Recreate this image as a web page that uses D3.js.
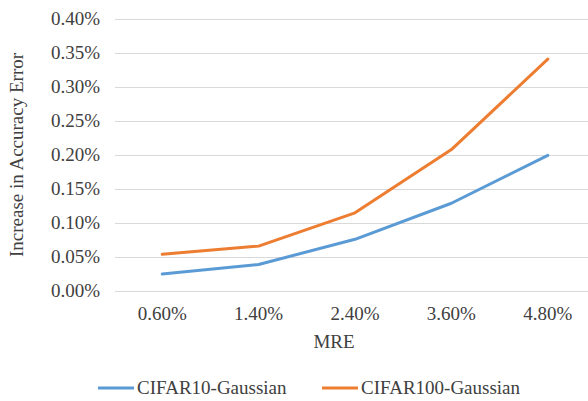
<!DOCTYPE html>
<html>
<head>
<meta charset="utf-8">
<script src="https://cdn.jsdelivr.net/npm/d3@7"></script>
<style>
  html, body { margin: 0; padding: 0; background: #fff; }
  svg text { font-family: "Liberation Serif", "Times New Roman", serif; fill: #404040; }
</style>
</head>
<body>
<div id="chart"></div>
<script>
// MRE vs increase in accuracy error — two Gaussian noise series (values in %)
const categories = ["0.60%", "1.40%", "2.40%", "3.60%", "4.80%"];
const cifar10 = [0.025, 0.039, 0.076, 0.129, 0.1995];
const cifar100 = [0.054, 0.066, 0.115, 0.208, 0.341];
const yTicks = [0, 0.05, 0.10, 0.15, 0.20, 0.25, 0.30, 0.35, 0.40];

const width = 588, height = 401;
const svg = d3.select("#chart").append("svg")
  .attr("width", width)
  .attr("height", height);

const x = d3.scaleBand()
  .domain(categories)
  .range([114, 596]);

const y = d3.scaleLinear()
  .domain([0, 0.40])
  .range([291, 19]);

// gridlines
svg.append("g")
  .selectAll("line")
  .data(yTicks)
  .join("line")
  .attr("x1", 115)
  .attr("x2", width)
  .attr("y1", d => Math.round(y(d)) + 0.5)
  .attr("y2", d => Math.round(y(d)) + 0.5)
  .attr("stroke", "#d9d9d9")
  .attr("stroke-width", 1);

// y tick labels
svg.append("g")
  .selectAll("text")
  .data(yTicks)
  .join("text")
  .attr("x", 100)
  .attr("y", d => y(d) + 6)
  .attr("text-anchor", "end")
  .style("font-size", "19px")
  .text(d => d.toFixed(2) + "%");

// x tick labels
svg.append("g")
  .selectAll("text")
  .data(categories)
  .join("text")
  .attr("x", d => x(d) + x.bandwidth() / 2)
  .attr("y", 320)
  .attr("text-anchor", "middle")
  .style("font-size", "19px")
  .text(d => d);

// axis titles
svg.append("text")
  .attr("x", 334)
  .attr("y", 348)
  .attr("text-anchor", "middle")
  .style("font-size", "19px")
  .text("MRE");

svg.append("text")
  .attr("transform", "translate(23,155) rotate(-90)")
  .attr("text-anchor", "middle")
  .style("font-size", "19px")
  .text("Increase in Accuracy Error");

// lines
const line = d3.line()
  .x((d, i) => x(categories[i]) + x.bandwidth() / 2)
  .y(d => y(d));

const series = [
  { name: "CIFAR10-Gaussian", values: cifar10, color: "#5b9bd5" },
  { name: "CIFAR100-Gaussian", values: cifar100, color: "#ed7d31" }
];

series.forEach(s => {
  svg.append("path")
    .datum(s.values)
    .attr("fill", "none")
    .attr("stroke", s.color)
    .attr("stroke-width", 3)
    .attr("stroke-linejoin", "round")
    .attr("stroke-linecap", "round")
    .attr("d", line);
});

// legend
const legendX = [98, 322];
series.forEach((s, i) => {
  const g = svg.append("g").attr("transform", `translate(${legendX[i]},388)`);
  g.append("line")
    .attr("x1", 0).attr("x2", 36)
    .attr("y1", 0).attr("y2", 0)
    .attr("stroke", s.color)
    .attr("stroke-width", 3);
  g.append("text")
    .attr("x", 39)
    .attr("y", 6)
    .style("font-size", "19px")
    .text(s.name);
});
</script>
</body>
</html>
